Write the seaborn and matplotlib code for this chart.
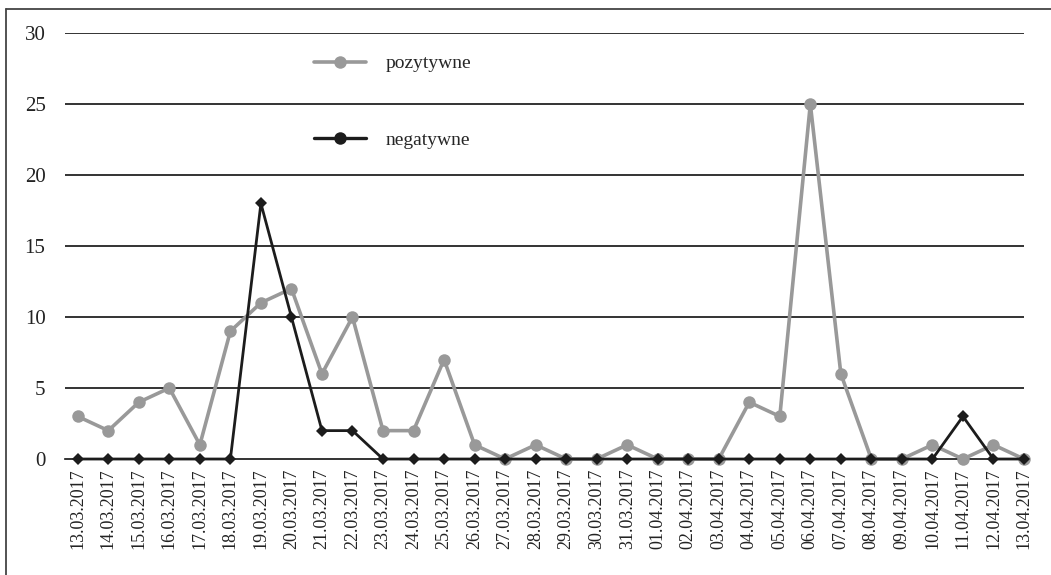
import matplotlib
matplotlib.use("Agg")
import matplotlib.pyplot as plt
from matplotlib.lines import Line2D
import seaborn as sns
import pandas as pd

dates = [
    "13.03.2017", "14.03.2017", "15.03.2017", "16.03.2017", "17.03.2017",
    "18.03.2017", "19.03.2017", "20.03.2017", "21.03.2017", "22.03.2017",
    "23.03.2017", "24.03.2017", "25.03.2017", "26.03.2017", "27.03.2017",
    "28.03.2017", "29.03.2017", "30.03.2017", "31.03.2017", "01.04.2017",
    "02.04.2017", "03.04.2017", "04.04.2017", "05.04.2017", "06.04.2017",
    "07.04.2017", "08.04.2017", "09.04.2017", "10.04.2017", "11.04.2017",
    "12.04.2017", "13.04.2017",
]
pozytywne = [3, 2, 4, 5, 1, 9, 11, 12, 6, 10, 2, 2, 7, 1, 0, 1, 0, 0, 1, 0,
             0, 0, 4, 3, 25, 6, 0, 0, 1, 0, 1, 0]
negatywne = [0, 0, 0, 0, 0, 0, 18, 10, 2, 2, 0, 0, 0, 0, 0, 0, 0, 0, 0, 0,
             0, 0, 0, 0, 0, 0, 0, 0, 0, 3, 0, 0]
y_ticks = [0, 5, 10, 15, 20, 25, 30]

GRAY = "#999999"
BLACK = "#1c1c1c"

sns.set_theme(style="white")
plt.rcParams["font.family"] = ["Liberation Serif", "DejaVu Serif"]

df = pd.DataFrame({"idx": range(len(dates)), "pozytywne": pozytywne,
                   "negatywne": negatywne})

fig = plt.figure(figsize=(10.51, 5.75), dpi=100)
ax = fig.add_axes([0.0618, 0.2017, 0.9125, 0.7409])

sns.lineplot(data=df, x="idx", y="pozytywne", ax=ax, color=GRAY,
             linewidth=2.6, marker="o", markersize=9, markeredgewidth=0,
             markerfacecolor=GRAY, zorder=3, clip_on=False)
sns.lineplot(data=df, x="idx", y="negatywne", ax=ax, color=BLACK,
             linewidth=2.0, marker="D", markersize=6, markeredgewidth=0,
             markerfacecolor=BLACK, zorder=4, clip_on=False)

ax.set_xlim(-0.42, 30.71)
ax.set_ylim(0, 30)
ax.set_yticks(y_ticks)
ax.set_yticklabels([str(v) for v in y_ticks], fontsize=15, color="#222222")
ax.set_xticks(range(len(dates)))
ax.set_xticklabels(dates, rotation=90, fontsize=13, color="#222222")
ax.tick_params(axis="both", length=0)
ax.tick_params(axis="y", pad=14)
ax.tick_params(axis="x", pad=7)
ax.set_xlabel("")
ax.set_ylabel("")

for v in y_ticks[1:]:
    ax.axhline(v, color="#111111", linewidth=1.2, zorder=1)

for side in ["top", "right", "left"]:
    ax.spines[side].set_visible(False)
ax.spines["bottom"].set_color("#111111")
ax.spines["bottom"].set_linewidth(1.2)

handles = [
    Line2D([], [], color=GRAY, linewidth=2.6, marker="o", markersize=9,
           markeredgewidth=0),
    Line2D([], [], color=BLACK, linewidth=2.4, marker="o", markersize=9,
           markeredgewidth=0),
]
ax.legend(handles, ["pozytywne", "negatywne"], loc="upper left",
          bbox_to_anchor=(0.241, 0.99), frameon=False, fontsize=14,
          labelspacing=3.05, handlelength=2.7, handletextpad=1.0)

# partial frame along the top and left edges of the figure
fig.add_artist(Line2D([6 / 1051, 1.0], [1 - 9 / 575, 1 - 9 / 575],
                      transform=fig.transFigure, color="#444444", linewidth=1.3))
fig.add_artist(Line2D([6 / 1051, 6 / 1051], [0.0, 1 - 9 / 575],
                      transform=fig.transFigure, color="#444444", linewidth=1.3))

fig.savefig("out.png", dpi=100)
